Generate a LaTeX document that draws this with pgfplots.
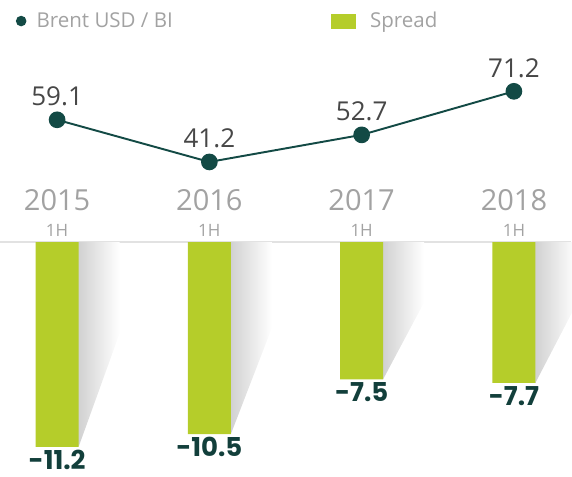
\documentclass[border=0pt]{standalone}
\usepackage{fontspec}
\setmainfont{Open Sans}
\newfontfamily\valfont{Poppins}
\usepackage{pgfplots}
\pgfplotsset{compat=1.18}

\definecolor{spreadgreen}{HTML}{B5CD2A}
\definecolor{brentteal}{HTML}{134A45}
\definecolor{labelteal}{HTML}{123F3B}
\definecolor{softgray}{HTML}{A2A2A2}
\definecolor{valgray}{HTML}{474747}
\definecolor{rulegray}{HTML}{E2E2E2}

% 1px of the reference = 0.02cm
\newcommand\legfont{\fontsize{0.41cm}{0.5cm}\selectfont}
\newcommand\yearfont{\fontsize{0.58cm}{0.68cm}\selectfont}
\newcommand\halffont{\fontsize{0.34cm}{0.4cm}\selectfont}
\newcommand\linefont{\fontsize{0.52cm}{0.62cm}\selectfont}
\newcommand\barfont{\valfont\bfseries\fontsize{0.52cm}{0.62cm}\selectfont}

\begin{document}
\begin{tikzpicture}
\useasboundingbox (0cm,0cm) rectangle (11.44cm,-9.52cm);

% --- top: Brent line ---
\begin{axis}[
    at={(0cm,-3.766cm)}, anchor=south west,
    width=11.42cm, height=2.354cm, scale only axis,
    xmin=-0.375, xmax=3.375, ymin=30, ymax=80,
    hide axis, clip=false,
    /pgf/number format/assume math mode=true,
    legend columns=2,
    legend style={at={(rel axis cs:0.026,1.421)}, anchor=west, draw=none, fill=none,
        font=\legfont, text=softgray, inner sep=0pt,
        /tikz/every even column/.append style={column sep=3.09cm}},
]
\addplot[brentteal, line width=1.1pt, mark=*, mark size=4.2pt,
    nodes near coords,
    every node near coord/.append style={anchor=base, yshift=0.28cm, font=\linefont, text=valgray},
    legend image code/.code={\fill[brentteal] (0.1cm,0cm) circle (0.085cm); \path (0cm,0cm) (0.32cm,0cm);}]
    coordinates {(0,59.1) (1,41.2) (2,52.7) (3,71.2)};
\addlegendentry{Brent USD / BI}
\addlegendimage{legend image code/.code={\fill[spreadgreen] (0cm,-0.14cm) rectangle (0.48cm,0.14cm); \path (0.7cm,0cm);}}
\addlegendentry{Spread}
\end{axis}

% --- bottom: Spread bars ---
\begin{axis}[
    at={(0cm,-9.415cm)}, anchor=south west,
    width=11.42cm, height=4.575cm, scale only axis,
    xmin=-0.375, xmax=3.375, ymin=-12.5, ymax=0,
    axis x line=top, axis y line=none,
    axis line style={draw=rulegray, line width=0.7pt, -},
    /pgf/number format/assume math mode=true,
    xtick={0,1,2,3}, xticklabels={2015,2016,2017,2018},
    xtick style={draw=none},
    xticklabel style={anchor=base, yshift=0.56cm, font=\yearfont, text=softgray},
    extra x ticks={0,1,2,3}, extra x tick labels={1H,1H,1H,1H},
    extra x tick style={xticklabel style={yshift=-0.53cm, font=\halffont}},
    ytick=\empty,
    clip=false,
]
% soft shadows to the right of each bar
\addplot[draw=none, left color=black!18, right color=white]
    coordinates {(0.141,0) (0.41,0) (0.41,-5.0) (0.141,-11.2)};
\addplot[draw=none, left color=black!18, right color=white]
    coordinates {(1.141,0) (1.41,0) (1.41,-4.7) (1.141,-10.5)};
\addplot[draw=none, left color=black!18, right color=white]
    coordinates {(2.141,0) (2.41,0) (2.41,-3.3) (2.141,-7.5)};
\addplot[draw=none, left color=black!18, right color=white]
    coordinates {(3.141,0) (3.41,0) (3.41,-3.4) (3.141,-7.7)};
% bars
\addplot[ybar, bar width=0.86cm, fill=spreadgreen, draw=none,
    nodes near coords, nodes near coords align={vertical},
    every node near coord/.append style={font=\barfont, text=labelteal, yshift=0.06cm}]
    coordinates {(0,-11.2) (1,-10.5) (2,-7.5) (3,-7.7)};
\end{axis}
\end{tikzpicture}
\end{document}
